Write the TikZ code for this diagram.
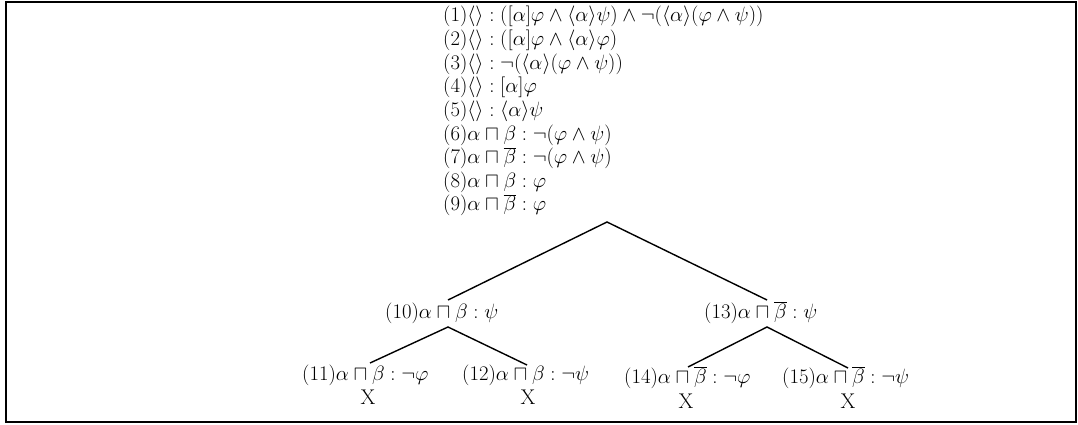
\documentclass[tikz,border=0pt]{standalone}
\begin{document}
\begin{tikzpicture}[x=1pt,y=-1pt,
  tx/.style={anchor=base west, inner sep=0pt, font=\fontsize{21.3}{25}\selectfont},
  xm/.style={anchor=base, inner sep=0pt, font=\fontsize{21.3}{25}\selectfont},
  br/.style={line width=1.4pt}]
\useasboundingbox (0,0) rectangle (1078,425);
\draw[line width=2pt] (6,2) rectangle (1076,422);
% premises
\node[tx] (l1) at (443,22) {$(1)\langle\rangle : ([\alpha]\varphi \land \langle\alpha\rangle\psi) \land \neg(\langle\alpha\rangle(\varphi \land \psi))$};
\node[tx] (l2) at (443,45.6) {$(2)\langle\rangle : ([\alpha]\varphi \land \langle\alpha\rangle\varphi)$};
\node[tx] (l3) at (443,69.2) {$(3)\langle\rangle : \neg(\langle\alpha\rangle(\varphi \land \psi))$};
\node[tx] (l4) at (443,92.8) {$(4)\langle\rangle : [\alpha]\varphi$};
\node[tx] (l5) at (443,116.4) {$(5)\langle\rangle : \langle\alpha\rangle\psi$};
\node[tx] (l6) at (443,140) {$(6)\alpha \sqcap \beta : \neg(\varphi \land \psi)$};
\node[tx] (l7) at (443,163.6) {$(7)\alpha \sqcap \overline{\beta} : \neg(\varphi \land \psi)$};
\node[tx] (l8) at (443,187.2) {$(8)\alpha \sqcap \beta : \varphi$};
\node[tx] (l9) at (443,210.8) {$(9)\alpha \sqcap \overline{\beta} : \varphi$};
% tree nodes
\node[tx] (n10) at (385,318) {$(10)\alpha \sqcap \beta : \psi$};
\node[tx] (n13) at (704,318) {$(13)\alpha \sqcap \overline{\beta} : \psi$};
\node[tx] (n11) at (302,380) {$(11)\alpha \sqcap \beta : \neg\varphi$};
\node[tx] (n12) at (462,380) {$(12)\alpha \sqcap \beta : \neg\psi$};
\node[tx] (n14) at (624,383) {$(14)\alpha \sqcap \overline{\beta} : \neg\varphi$};
\node[tx] (n15) at (782,383) {$(15)\alpha \sqcap \overline{\beta} : \neg\psi$};
\node[xm] (x11) at (368,404) {X};
\node[xm] (x12) at (528,404) {X};
\node[xm] (x14) at (686,408) {X};
\node[xm] (x15) at (848,408) {X};
% branch points
\coordinate (apex) at (607,222);
\coordinate (t10) at (448,300);
\coordinate (t13) at (767,300);
\coordinate (b10) at (448,327);
\coordinate (b13) at (767,327);
\coordinate (t11) at (370,363);
\coordinate (t12) at (527,365);
\coordinate (t14) at (688,367);
\coordinate (t15) at (848,368);
\draw[br] (t10) -- (apex) -- (t13);
\draw[br] (t11) -- (b10) -- (t12);
\draw[br] (t14) -- (b13) -- (t15);
\end{tikzpicture}
\end{document}
